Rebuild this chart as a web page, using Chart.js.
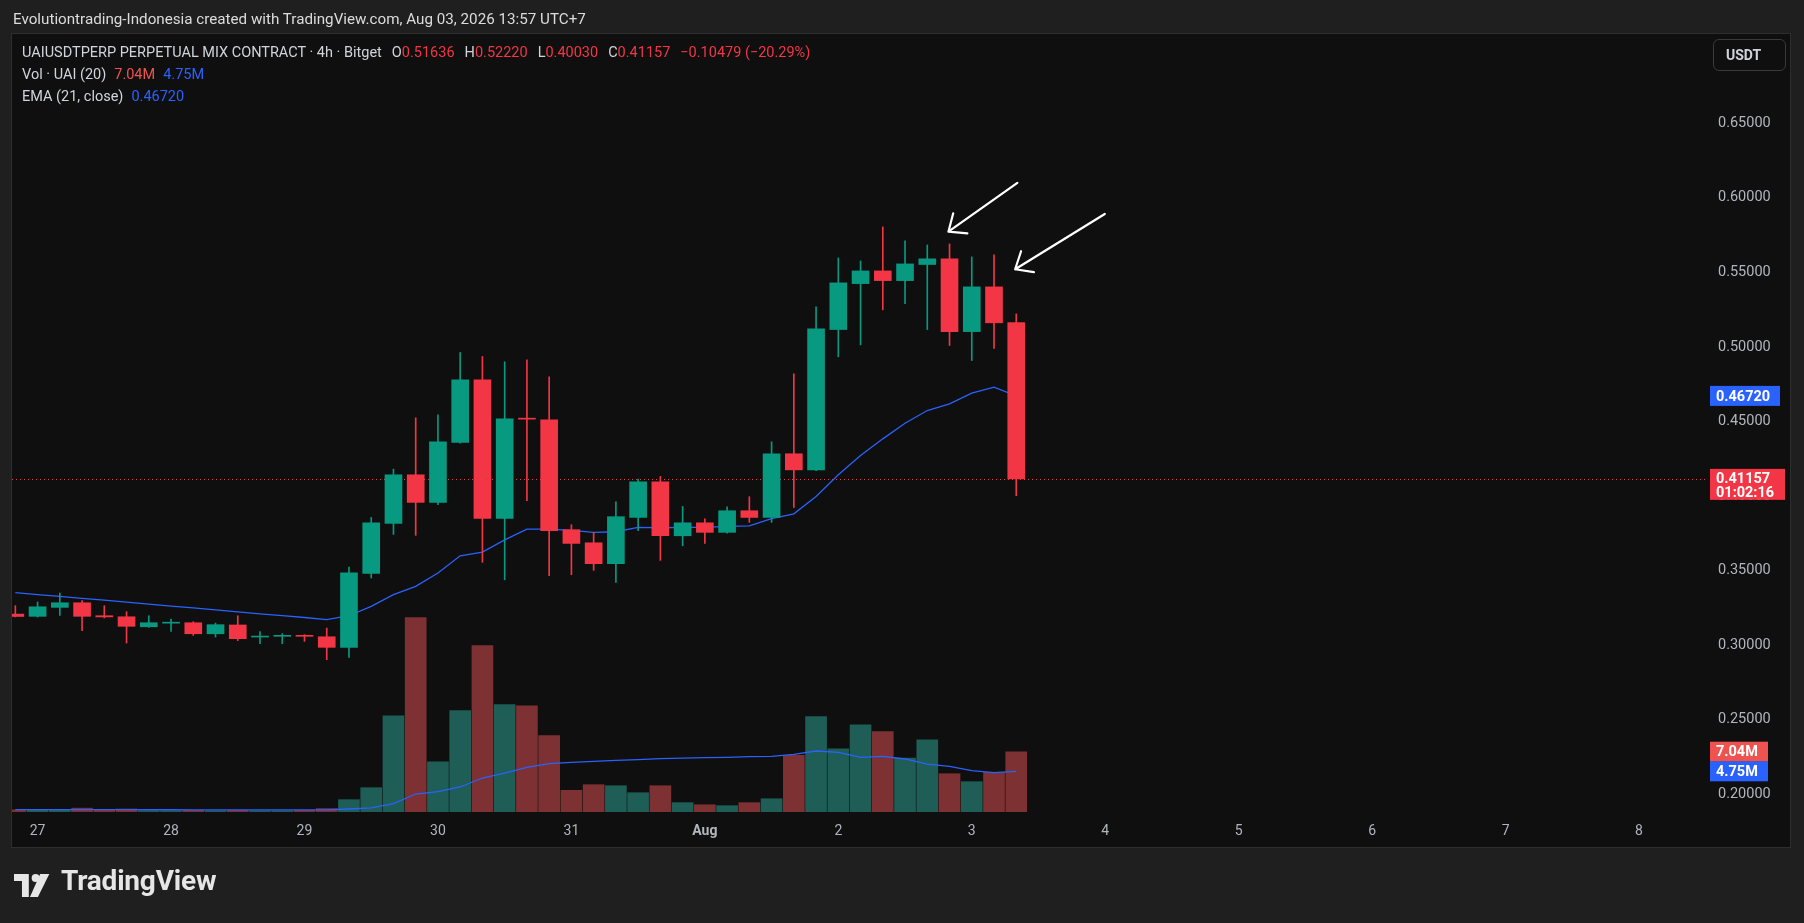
<!DOCTYPE html>
<html>
<head>
<meta charset="utf-8">
<script src="https://cdn.jsdelivr.net/npm/chart.js@4.4.1/dist/chart.umd.min.js"></script>
<style>
  html, body { margin: 0; padding: 0; }
  body {
    width: 1804px; height: 923px; overflow: hidden; position: relative;
    background: #1f1f1f; font-family: Roboto, "Noto Sans", sans-serif; color: #d1d4dc;
  }
  #frame {
    position: absolute; left: 11px; top: 33px; width: 1778px; height: 813px;
    background: #0f0f0f; border: 1px solid #2e2e2e;
  }
  #chart { position: absolute; left: 0; top: 0; }
  .txt { position: absolute; white-space: nowrap; }
  #header { left: 13px; top: 10px; font-size: 15.2px; color: #dcdcdc; }
  .legend { left: 22px; font-size: 14.5px; color: #d1d4dc; }
  .legend span { margin-left: 8px; }
  .red { color: #f23645; }
  .blue { color: #2962ff; }
  #usdt {
    position: absolute; left: 1713px; top: 39px; width: 73px; height: 32px;
    border: 1px solid #3a3a3a; border-radius: 6px; box-sizing: border-box;
    font-size: 14px; font-weight: bold; color: #d1d4dc; line-height: 30px; padding-left: 12px;
  }
  #logo { position: absolute; left: 14px; top: 874px; }
  #logoText { left: 61px; top: 864px; font-size: 28px; font-weight: bold; color: #e6e6e6; letter-spacing: -0.2px; }
</style>
</head>
<body>
<div id="frame"></div>
<canvas id="chart" width="1804" height="923"></canvas>
<div class="txt" id="header">Evolutiontrading-Indonesia created with TradingView.com, Aug 03, 2026 13:57 UTC+7</div>
<div class="txt legend" id="leg1" style="top:44px"></div>
<div class="txt legend" id="leg2" style="top:66px"></div>
<div class="txt legend" id="leg3" style="top:88px"></div>
<div id="usdt">USDT</div>
<svg id="logo" width="41" height="23" viewBox="0 0 36 20">
  <path d="M13 20H7V6H0V0h13z" fill="#e6e6e6"/>
  <circle cx="19" cy="3.5" r="3.5" fill="#e6e6e6"/>
  <path d="M21 20h-7L23 0h8z" fill="#e6e6e6"/>
</svg>
<div class="txt" id="logoText">TradingView</div>

<script>
// ── UAIUSDT perpetual, 4h candles (index 0 = Jul 26 20:00) ──
const opens  = [0.3209,0.3194,0.3254,0.3285,0.3198,0.3191,0.3124,0.3148,0.3151,0.3077,0.3136,0.3055,0.3060,0.3064,0.3057,
                0.2986,0.3482,0.3817,0.4143,0.3958,0.4360,0.4780,0.3850,0.4520,0.4512,0.3775,0.3687,0.3547,0.3857,0.4096,
                0.3734,0.3821,0.3757,0.3902,0.3857,0.4284,0.4176,0.5117,0.5425,0.5510,0.5445,0.5553,0.5591,0.5103,0.5403,0.51636];
const highs  = [0.3265,0.3290,0.3350,0.3299,0.3265,0.3225,0.3198,0.3176,0.3158,0.3149,0.3198,0.3091,0.3078,0.3071,0.3115,
                0.3524,0.3857,0.4181,0.4525,0.4545,0.4963,0.4936,0.4901,0.4914,0.4800,0.3808,0.3757,0.3962,0.4114,0.4132,
                0.3931,0.3848,0.3929,0.3996,0.4364,0.4820,0.5269,0.5597,0.5577,0.5805,0.5711,0.5684,0.5691,0.5604,0.5617,0.52220];
const lows   = [0.3190,0.3189,0.3200,0.3098,0.3183,0.3015,0.3120,0.3093,0.3066,0.3055,0.3031,0.3011,0.3011,0.3026,0.2903,
                0.2919,0.3451,0.3743,0.3737,0.3942,0.4355,0.3556,0.3439,0.3969,0.3466,0.3473,0.3502,0.3422,0.3768,0.3569,
                0.3667,0.3683,0.3752,0.3824,0.3824,0.3924,0.4170,0.4934,0.5014,0.5249,0.5291,0.5117,0.5010,0.4909,0.4990,0.40030];
const closes = [0.3193,0.3258,0.3285,0.3194,0.3190,0.3127,0.3151,0.3153,0.3077,0.3138,0.3044,0.3060,0.3064,0.3060,0.2986,
                0.3486,0.3821,0.4143,0.3958,0.4364,0.4780,0.3850,0.4518,0.4516,0.3768,0.3683,0.3547,0.3862,0.4096,0.3734,
                0.3821,0.3757,0.3902,0.3857,0.4284,0.4176,0.5121,0.5430,0.5510,0.5445,0.5557,0.5591,0.5103,0.5403,0.5162,0.41157];

// volume in millions of UAI, and its 20-period MA
const volumes = [0.25,0.20,0.25,0.45,0.20,0.35,0.15,0.15,0.20,0.15,0.20,0.15,0.15,0.20,0.40,
                 1.44,2.84,11.24,22.69,5.87,11.83,19.42,12.53,12.41,8.93,2.53,3.19,3.07,2.25,3.07,
                 1.09,0.85,0.74,1.09,1.55,6.62,11.13,7.39,10.19,9.38,6.30,8.44,4.47,3.54,4.64,7.04];
const volMA   = [0.28,0.28,0.27,0.28,0.27,0.27,0.26,0.26,0.25,0.25,0.25,0.24,0.24,0.24,0.25,
                 0.35,0.47,0.97,2.10,2.37,2.92,3.97,4.55,5.22,5.64,5.80,5.92,6.03,6.11,6.23,
                 6.30,6.34,6.38,6.46,6.50,6.73,7.12,6.97,6.38,6.50,6.19,5.60,5.33,4.83,4.59,4.75];

// EMA(21, close)
const ema = [0.3353,0.3340,0.3328,0.3315,0.3302,0.3289,0.3276,0.3263,0.3250,0.3237,0.3224,0.3211,0.3199,0.3186,0.3172,
             0.3198,0.3261,0.3339,0.3395,0.3484,0.3600,0.3625,0.3707,0.3779,0.3779,0.3770,0.3757,0.3761,0.3790,0.3788,
             0.3790,0.3791,0.3797,0.3801,0.3849,0.3881,0.3998,0.4143,0.4272,0.4384,0.4489,0.4574,0.4619,0.4690,0.4730,0.46720];

// axis ticks
const dayTickIdx    = [1, 7, 13, 19, 25, 31, 37, 43, 49, 55, 61, 67, 73];
const dayTickLabels = ['27', '28', '29', '30', '31', 'Aug', '2', '3', '4', '5', '6', '7', '8'];
const priceTicks    = [0.20, 0.25, 0.30, 0.35, 0.40, 0.45, 0.50, 0.55, 0.60, 0.65];

// arrow annotations drawn on the chart: [tipIndex, tipPrice, tailIndex, tailPrice]
const arrows = [
  [41.95, 0.5773, 45.05, 0.6100],
  [44.95, 0.5521, 48.98, 0.5892]
];

const countdown = '01:02:16';

const UP = '#089981', DOWN = '#f23645';
const VOL_UP = '#1e5e56', VOL_DOWN = '#7e3133';
const isUp = i => closes[i] >= opens[i];
const last = closes.length - 1;

// ── legend text ──
const fmt5 = v => v.toFixed(5);
const chg = closes[last] - opens[last];
const pct = chg / opens[last] * 100;
const signed = (v, d) => (v < 0 ? '\u2212' : '+') + Math.abs(v).toFixed(d);
const ohlc = (k, v) => `<span style="margin-left:10px">${k}<i class="red" style="font-style:normal">${fmt5(v)}</i></span>`;
document.getElementById('leg1').innerHTML =
  'UAIUSDTPERP PERPETUAL MIX CONTRACT · 4h · Bitget' +
  ohlc('O', opens[last]) + ohlc('H', highs[last]) + ohlc('L', lows[last]) + ohlc('C', closes[last]) +
  `<span class="red" style="margin-left:10px">${signed(chg, 5)} (${signed(pct, 2)}%)</span>`;
document.getElementById('leg2').innerHTML =
  `Vol · UAI (20)<span style="color:#ef5350">${volumes[last].toFixed(2)}M</span><span class="blue">${volMA[last].toFixed(2)}M</span>`;
document.getElementById('leg3').innerHTML =
  `EMA (21, close)<span class="blue">${fmt5(ema[last])}</span>`;

// ── overlay plugin: last price line, axis price tags, arrows ──
const overlay = {
  id: 'overlay',
  beforeDatasetsDraw(chart) {
    const { ctx, chartArea: a, scales: { y } } = chart;
    const py = Math.round(y.getPixelForValue(closes[last])) + 0.5;
    ctx.save();
    ctx.strokeStyle = DOWN;
    ctx.lineWidth = 1;
    ctx.setLineDash([1, 3]);
    ctx.beginPath();
    ctx.moveTo(a.left, py);
    ctx.lineTo(a.right, py);
    ctx.stroke();
    ctx.restore();
  },
  afterDraw(chart) {
    const { ctx, chartArea: a, scales: { x, y, yVol } } = chart;
    ctx.save();
    ctx.font = 'bold 14.5px Roboto, sans-serif';
    ctx.textBaseline = 'middle';

    const tag = (cy, w, h, bg, lines) => {
      ctx.fillStyle = bg;
      ctx.fillRect(a.right + 2, cy - 10, w, h);
      ctx.fillStyle = '#ffffff';
      lines.forEach((t, i) => ctx.fillText(t, a.right + 8, cy + 1 + i * 14));
    };
    tag(y.getPixelForValue(ema[last]), 70, 20, '#2962ff', [fmt5(ema[last])]);
    tag(y.getPixelForValue(closes[last]), 75, 31, DOWN, [fmt5(closes[last]), countdown]);
    tag(yVol.getPixelForValue(volumes[last]), 58, 20, '#ef5350', [volumes[last].toFixed(2) + 'M']);
    tag(yVol.getPixelForValue(volMA[last]), 58, 20, '#2962ff', [volMA[last].toFixed(2) + 'M']);

    // hand-drawn arrows
    ctx.strokeStyle = '#ffffff';
    ctx.lineWidth = 2.2;
    ctx.lineCap = 'round';
    arrows.forEach(([ti, tp, ei, ep]) => {
      const tx = x.getPixelForValue(ti), ty = y.getPixelForValue(tp);
      const ex = x.getPixelForValue(ei), ey = y.getPixelForValue(ep);
      const ang = Math.atan2(ey - ty, ex - tx);
      ctx.beginPath();
      ctx.moveTo(ex, ey);
      ctx.lineTo(tx, ty);
      [-0.7, 0.7].forEach(d => {
        ctx.moveTo(tx, ty);
        ctx.lineTo(tx + 19 * Math.cos(ang + d), ty + 19 * Math.sin(ang + d));
      });
      ctx.stroke();
    });
    ctx.restore();
  }
};

const idx = arr => arr.map((v, i) => ({ x: i, y: v }));

new Chart(document.getElementById('chart'), {
  type: 'bar',
  data: {
    datasets: [
      {
        label: 'Bodies',
        data: opens.map((o, i) => ({ x: i, y: [o, closes[i]] })),
        backgroundColor: ctx => isUp(ctx.dataIndex) ? UP : DOWN,
        barThickness: 17,
        minBarLength: 1,
        grouped: false,
        yAxisID: 'y',
        order: 1
      },
      {
        label: 'Wicks',
        data: lows.map((l, i) => ({ x: i, y: [l, highs[i]] })),
        backgroundColor: ctx => isUp(ctx.dataIndex) ? UP : DOWN,
        barThickness: 1,
        grouped: false,
        yAxisID: 'y',
        order: 2
      },
      {
        type: 'line',
        label: 'EMA',
        data: idx(ema),
        borderColor: '#2962ff',
        borderWidth: 1.3,
        pointRadius: 0,
        yAxisID: 'y',
        order: 3
      },
      {
        type: 'line',
        label: 'Vol MA',
        data: idx(volMA),
        borderColor: '#2962ff',
        borderWidth: 1.3,
        pointRadius: 0,
        yAxisID: 'yVol',
        order: 4
      },
      {
        label: 'Volume',
        data: idx(volumes),
        backgroundColor: ctx => isUp(ctx.dataIndex) ? VOL_UP : VOL_DOWN,
        barThickness: 21,
        grouped: false,
        yAxisID: 'yVol',
        order: 5
      }
    ]
  },
  options: {
    responsive: false,
    animation: false,
    devicePixelRatio: 1,
    layout: { padding: { left: 12, top: 34, right: 14, bottom: 76 } },
    plugins: { legend: { display: false }, tooltip: { enabled: false } },
    scales: {
      x: {
        type: 'linear',
        min: -0.15,
        max: 76.1,
        offset: false,
        grid: { display: false, drawTicks: false },
        border: { display: false },
        afterBuildTicks: axis => { axis.ticks = dayTickIdx.map(v => ({ value: v })); },
        afterFit: axis => { axis.height = 35; },
        ticks: {
          autoSkip: false,
          maxRotation: 0,
          padding: 11,
          color: '#b2b5be',
          font: ctx => ({ family: 'Roboto, sans-serif', size: 14,
                          weight: ctx.tick && ctx.tick.value === dayTickIdx[5] ? 'bold' : 'normal' }),
          callback: v => dayTickLabels[dayTickIdx.indexOf(v)]
        }
      },
      y: {
        position: 'right',
        min: 0.18820,
        max: 0.70985,
        grid: { display: false, drawTicks: false },
        border: { display: false },
        afterBuildTicks: axis => { axis.ticks = priceTicks.map(v => ({ value: v })); },
        afterFit: axis => { axis.width = 82; },
        ticks: {
          padding: 10,
          color: '#b2b5be',
          font: { family: 'Roboto, sans-serif', size: 14.5 },
          callback: v => v.toFixed(5)
        }
      },
      yVol: {
        position: 'right',
        display: false,
        min: 0,
        max: 90.84
      }
    }
  },
  plugins: [overlay]
});
</script>
</body>
</html>
